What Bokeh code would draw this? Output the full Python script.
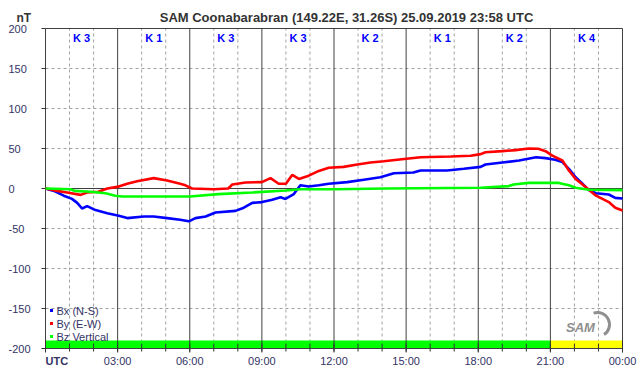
from bokeh.plotting import figure
from bokeh.models import Range1d
from bokeh.core.properties import value
from bokeh.embed import file_html
from bokeh.resources import INLINE

# ---------------- data ----------------
bx_hours = [0, 0.35, 0.76, 1.1, 1.32, 1.52, 1.73, 2.08, 2.57, 3.05, 3.4, 4.09, 4.5, 5.06, 5.6,
            5.96, 6.24, 6.66, 7.07, 7.9, 8.25, 8.6, 9.01, 9.43, 9.78, 9.98, 10.33, 10.6, 10.95,
            11.37, 11.78, 12.55, 13.24, 13.93, 14.49, 15.3, 15.6, 16.7, 17.4, 18.1, 18.3, 19.0,
            19.7, 20.4, 20.8, 21.2, 21.5, 21.77, 22.05, 22.3, 22.6, 22.9, 23.43, 23.7, 24.0]
bx_values = [0, -3, -9, -13, -18, -25, -22, -27, -31, -34, -37, -35, -35, -37, -39,
             -41, -37, -35, -30, -28, -24, -18, -17, -14, -11, -13, -7, 4, 2.5,
             4, 6, 8, 11, 14, 19, 20, 22.5, 22.5, 24.6, 27, 30, 32.5,
             35, 39, 38, 36, 33, 24.6, 14, 7, -2, -6, -7.5, -11.7, -12.5]

by_hours = [0, 0.49, 0.9, 1.46, 1.73, 2.2, 2.57, 2.98, 3.4, 3.81, 4.5, 5.06, 5.6, 5.82, 6.1,
            7.0, 7.6, 7.77, 8.32, 9.0, 9.36, 9.7, 10.0, 10.26, 10.54, 10.95, 11.37, 11.78,
            12.4, 12.97, 13.52, 14.07, 14.63, 15.6, 16.85, 17.68, 18.1, 18.3, 19.0, 19.55,
            20.1, 20.5, 20.8, 21.08, 21.5, 21.77, 22.05, 22.3, 22.6, 22.9, 23.43, 23.7, 24.0]
by_values = [0, -3, -5, -8, -5, -4, 0, 2, 6, 9, 13, 10, 6, 4, 0,
             -1, 0, 5, 7.5, 8, 13, 6, 6, 17, 12, 16, 22, 26,
             27, 30, 32.5, 34, 36, 39, 40, 41, 43, 45.4, 46.7, 48,
             50, 49.6, 46.7, 41, 35, 22.5, 12, 6, -1.7, -9, -17, -24, -27.5]

bz_hours = [0, 1.04, 1.2, 1.87, 2.5, 2.9, 3.2, 6.0, 7.2, 8.6, 10.0, 10.6, 12.0, 14.2,
            18.1, 19.27, 19.47, 20.1, 21.35, 21.77, 22.05, 22.6, 24.0]
bz_values = [0, -1, -3, -4, -6, -9, -10, -10, -7, -5, -2.5, -1, -1, 0,
             1, 3, 5, 7, 7, 4, 1, -1.5, -2]

series_names = ["Bx (N-S)", "By (E-W)", "Bz Vertical"]
series_colors = ["#0000ff", "#ff0000", "#00ff00"]

k_values = [3, 1, 3, 3, 2, 1, 2, 4]
bar_starts = [0, 21]
bar_ends = [21, 24]
bar_colors = ["#00ff00", "#ffff00"]

y_ticks = [200, 150, 100, 50, 0, -50, -100, -150, -200]
x_major = [0, 3, 6, 9, 12, 15, 18, 21, 24]
x_minor = list(range(0, 25))

title_text = "SAM Coonabarabran (149.22E, 31.26S) 25.09.2019 23:58 UTC"

# ---------------- layout (pixels of the plot area inside the canvas) ----------------
W, H = 642, 376
L, R, T, B = 45, 20, 28, 28
FW, FH = W - L - R, H - T - B
XMIN, XMAX, YMIN, YMAX = 0, 24, -200, 200


def sx(px):
    return XMIN + (px - L) / FW * (XMAX - XMIN)


def sy(py):
    return YMIN + (T + FH - py) / FH * (YMAX - YMIN)


# the data ranges are widened so that the margins (titles, tick labels) lie inside the canvas
p = figure(width=W, height=H, output_backend="svg", toolbar_location=None,
           x_range=Range1d(sx(0), sx(W)), y_range=Range1d(sy(H), sy(0)),
           min_border=0)
p.xaxis.visible = False
p.yaxis.visible = False
p.xgrid.visible = False
p.ygrid.visible = False
p.outline_line_color = None
p.background_fill_color = "white"
p.border_fill_color = "white"

DARK = "#333333"
FRAME = "#404040"
GRID = "#a0a0a0"
LABEL = "#333366"
FONT = value("Liberation Sans")

# dashed grid
hour_lines = [h for h in x_minor if h not in x_major]
p.segment(x0=hour_lines, y0=[YMIN] * len(hour_lines), x1=hour_lines, y1=[YMAX] * len(hour_lines),
          line_color=GRID, line_dash="3 3", line_width=1)
hlines = [t for t in y_ticks if t not in (0, YMIN, YMAX)]
p.segment(x0=[XMIN] * len(hlines), y0=hlines, x1=[XMAX] * len(hlines), y1=hlines,
          line_color=GRID, line_dash="3 3", line_width=1)

# solid 3-hour lines and zero line
vlines = x_major[1:-1]
p.segment(x0=vlines, y0=[YMIN] * len(vlines), x1=vlines, y1=[YMAX] * len(vlines),
          line_color=FRAME, line_width=1)
p.segment(x0=[XMIN], y0=[0], x1=[XMAX], y1=[0], line_color=FRAME, line_width=1)

# status bar at bottom
p.quad(left=bar_starts, right=bar_ends, bottom=[YMIN] * len(bar_starts),
       top=[sy(340)] * len(bar_starts), fill_color=bar_colors, line_color=None)

# frame
p.quad(left=[XMIN], right=[XMAX], bottom=[YMIN], top=[YMAX], fill_color=None,
       line_color=FRAME, line_width=1)

# ticks
p.segment(x0=[sx(41)] * len(y_ticks), y0=y_ticks, x1=[XMIN] * len(y_ticks), y1=y_ticks,
          line_color=DARK, line_width=1)
p.segment(x0=x_minor, y0=[sy(351)] * len(x_minor), x1=x_minor, y1=[sy(343)] * len(x_minor),
          line_color=DARK, line_width=1)
p.segment(x0=x_major, y0=[sy(352)] * len(x_major), x1=x_major, y1=[sy(340)] * len(x_major),
          line_color=DARK, line_width=1)

# data lines
for hrs, vals, c in zip([bx_hours, by_hours, bz_hours], [bx_values, by_values, bz_values], series_colors):
    p.line(hrs, vals, line_color=c, line_width=2.6)

# legend
leg_y = [sy(310), sy(323), sy(336)]
p.scatter([sx(51)] * 3, leg_y, marker="square", size=3, color=series_colors, line_color=None)
p.text(x=[sx(56)] * 3, y=leg_y, text=series_names, text_align="left", text_baseline="middle",
       text_font=FONT, text_font_size="11px", text_color=LABEL)

# K indices
p.text(x=[1.5 + 3 * i for i in range(len(k_values))], y=[sy(37)] * len(k_values),
       text=[f"K {k}" for k in k_values], text_align="center", text_baseline="middle",
       text_font=FONT, text_font_style="bold", text_font_size="11px", text_color="#0000ff")

# title and unit
p.text(x=[sx(346)], y=[sy(17)], text=[title_text], text_align="center", text_baseline="middle",
       text_font=FONT, text_font_style="bold", text_font_size="13px", text_color=DARK)
p.text(x=[sx(16)], y=[sy(17)], text=["nT"], text_align="left", text_baseline="middle",
       text_font=FONT, text_font_style="bold", text_font_size="12px", text_color=DARK)

# y tick labels (left aligned)
p.text(x=[sx(8)] * len(y_ticks), y=y_ticks, text=[str(v) for v in y_ticks], text_align="left",
       text_baseline="middle", text_font=FONT, text_font_size="11px", text_color=LABEL)

# x tick labels
p.text(x=[XMIN], y=[sy(360)], text=["UTC"], text_align="left", text_baseline="middle",
       text_font=FONT, text_font_style="bold", text_font_size="11px", text_color=LABEL)
p.text(x=x_major[1:], y=[sy(360)] * (len(x_major) - 1),
       text=[f"{t % 24:02d}:00" for t in x_major[1:]], text_align="center",
       text_baseline="middle", text_font=FONT, text_font_size="11px", text_color=LABEL)

# SAM logo (approximation)
p.arc(x=[sx(597)], y=[sy(324)], radius=12, radius_units="screen", start_angle=-1.0,
      end_angle=1.9, line_color="#8f8f8f", line_width=3)
p.text(x=[sx(580)], y=[sy(327)], text=["SAM"], text_align="center", text_baseline="middle",
       text_font=FONT, text_font_style="bold italic", text_font_size="13px", text_color="#8f8f8f")

open("out.html", "w").write(file_html(p, INLINE))
